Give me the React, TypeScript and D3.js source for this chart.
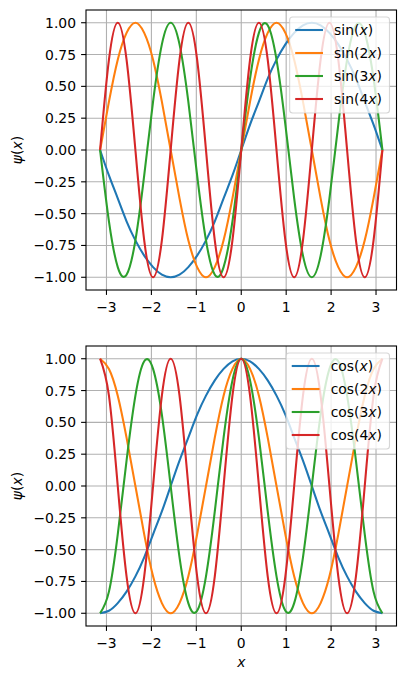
import { useEffect, useRef } from "react";
import * as d3 from "d3";

// sample positions, x = k·π/16 for k = -16..16
const xGrid = [
  -3.142, -2.945, -2.749, -2.553, -2.356, -2.16, -1.963, -1.767, -1.571, -1.374, -1.178,
  -0.982, -0.785, -0.589, -0.393, -0.196, 0, 0.196, 0.393, 0.589, 0.785, 0.982, 1.178,
  1.374, 1.571, 1.767, 1.963, 2.16, 2.356, 2.553, 2.749, 2.945, 3.142,
];

const sin1 = [
  0, -0.2, -0.38, -0.56, -0.71, -0.83, -0.92, -0.98, -1, -0.98, -0.92, -0.83, -0.71, -0.56, -0.38, -0.2,
  0, 0.2, 0.38, 0.56, 0.71, 0.83, 0.92, 0.98, 1, 0.98, 0.92, 0.83, 0.71, 0.56, 0.38, 0.2, 0,
];
const sin2 = [
  0, 0.38, 0.71, 0.92, 1, 0.92, 0.71, 0.38, 0, -0.38, -0.71, -0.92, -1, -0.92, -0.71, -0.38,
  0, 0.38, 0.71, 0.92, 1, 0.92, 0.71, 0.38, 0, -0.38, -0.71, -0.92, -1, -0.92, -0.71, -0.38, 0,
];
const sin3 = [
  0, -0.56, -0.92, -0.98, -0.71, -0.2, 0.38, 0.83, 1, 0.83, 0.38, -0.2, -0.71, -0.98, -0.92, -0.56,
  0, 0.56, 0.92, 0.98, 0.71, 0.2, -0.38, -0.83, -1, -0.83, -0.38, 0.2, 0.71, 0.98, 0.92, 0.56, 0,
];
const sin4 = [
  0, 0.71, 1, 0.71, 0, -0.71, -1, -0.71, 0, 0.71, 1, 0.71, 0, -0.71, -1, -0.71,
  0, 0.71, 1, 0.71, 0, -0.71, -1, -0.71, 0, 0.71, 1, 0.71, 0, -0.71, -1, -0.71, 0,
];

const cos1 = [
  -1, -0.98, -0.92, -0.83, -0.71, -0.56, -0.38, -0.2, 0, 0.2, 0.38, 0.56, 0.71, 0.83, 0.92, 0.98,
  1, 0.98, 0.92, 0.83, 0.71, 0.56, 0.38, 0.2, 0, -0.2, -0.38, -0.56, -0.71, -0.83, -0.92, -0.98, -1,
];
const cos2 = [
  1, 0.92, 0.71, 0.38, 0, -0.38, -0.71, -0.92, -1, -0.92, -0.71, -0.38, 0, 0.38, 0.71, 0.92,
  1, 0.92, 0.71, 0.38, 0, -0.38, -0.71, -0.92, -1, -0.92, -0.71, -0.38, 0, 0.38, 0.71, 0.92, 1,
];
const cos3 = [
  -1, -0.83, -0.38, 0.2, 0.71, 0.98, 0.92, 0.56, 0, -0.56, -0.92, -0.98, -0.71, -0.2, 0.38, 0.83,
  1, 0.83, 0.38, -0.2, -0.71, -0.98, -0.92, -0.56, 0, 0.56, 0.92, 0.98, 0.71, 0.2, -0.38, -0.83, -1,
];
const cos4 = [
  1, 0.71, 0, -0.71, -1, -0.71, 0, 0.71, 1, 0.71, 0, -0.71, -1, -0.71, 0, 0.71,
  1, 0.71, 0, -0.71, -1, -0.71, 0, 0.71, 1, 0.71, 0, -0.71, -1, -0.71, 0, 0.71, 1,
];

const multipliers = ["", "2", "3", "4"];
const xTicks = [-3, -2, -1, 0, 1, 2, 3];
const yTicks = [-1, -0.75, -0.5, -0.25, 0, 0.25, 0.5, 0.75, 1];
const colors = ["#1f77b4", "#ff7f0e", "#2ca02c", "#d62728"];

const panels = [
  { fn: "sin", series: [sin1, sin2, sin3, sin4] },
  { fn: "cos", series: [cos1, cos2, cos3, cos4] },
];

const W = 405;
const H = 679;
const FONT = "'DejaVu Sans', sans-serif";
const FS = 13.9;

export default function App() {
  const ref = useRef<SVGSVGElement>(null);

  useEffect(() => {
    const svg = d3.select(ref.current);
    svg.selectAll("*").remove();

    const left = 86;
    const right = 396.5;
    const axH = 280;
    const tops = [10, 346];

    const xr = Math.PI * 1.1;
    const x = d3.scaleLinear().domain([-xr, xr]).range([left, right]);

    panels.forEach((panel, pi) => {
      const top = tops[pi];
      const bottom = top + axH;
      const y = d3.scaleLinear().domain([-1.1, 1.1]).range([bottom, top]);
      const g = svg.append("g");

      // grid
      g.selectAll(".gx")
        .data(xTicks)
        .enter()
        .append("line")
        .attr("x1", (d) => x(d))
        .attr("x2", (d) => x(d))
        .attr("y1", top)
        .attr("y2", bottom)
        .attr("stroke", "#b0b0b0")
        .attr("stroke-width", 1.1);
      g.selectAll(".gy")
        .data(yTicks)
        .enter()
        .append("line")
        .attr("x1", left)
        .attr("x2", right)
        .attr("y1", (d) => y(d))
        .attr("y2", (d) => y(d))
        .attr("stroke", "#b0b0b0")
        .attr("stroke-width", 1.1);

      // curves
      const line = d3
        .line<number>()
        .x((_, i) => x(xGrid[i]))
        .y((d) => y(d))
        .curve(d3.curveNatural);
      panel.series.forEach((vals, si) => {
        g.append("path")
          .attr("d", line(vals))
          .attr("fill", "none")
          .attr("stroke", colors[si])
          .attr("stroke-width", 2.08);
      });

      // spines
      g.append("rect")
        .attr("x", left)
        .attr("y", top)
        .attr("width", right - left)
        .attr("height", axH)
        .attr("fill", "none")
        .attr("stroke", "black")
        .attr("stroke-width", 1.1);

      // x ticks
      const xt = g.selectAll(".xt").data(xTicks).enter().append("g");
      xt.append("line")
        .attr("x1", (d) => x(d))
        .attr("x2", (d) => x(d))
        .attr("y1", bottom)
        .attr("y2", bottom + 4.9)
        .attr("stroke", "black")
        .attr("stroke-width", 1.1);
      xt.append("text")
        .attr("x", (d) => x(d))
        .attr("y", bottom + 22)
        .attr("text-anchor", "middle")
        .attr("font-family", FONT)
        .attr("font-size", FS)
        .text((d) => (d < 0 ? "\u2212" + Math.abs(d) : String(d)));

      // y ticks
      const yt = g.selectAll(".yt").data(yTicks).enter().append("g");
      yt.append("line")
        .attr("x1", left - 4.9)
        .attr("x2", left)
        .attr("y1", (d) => y(d))
        .attr("y2", (d) => y(d))
        .attr("stroke", "black")
        .attr("stroke-width", 1.1);
      yt.append("text")
        .attr("x", left - 10)
        .attr("y", (d) => y(d))
        .attr("dy", "0.36em")
        .attr("text-anchor", "end")
        .attr("font-family", FONT)
        .attr("font-size", FS)
        .text((d) => (d < 0 ? "\u2212" + Math.abs(d).toFixed(2) : d.toFixed(2)));

      // y label
      const yl = g
        .append("text")
        .attr("transform", `translate(22,${(top + bottom) / 2}) rotate(-90)`)
        .attr("text-anchor", "middle")
        .attr("font-family", FONT)
        .attr("font-size", FS);
      yl.append("tspan").attr("font-style", "italic").text("ψ");
      yl.append("tspan").text("(");
      yl.append("tspan").attr("font-style", "italic").text("x");
      yl.append("tspan").text(")");

      // legend
      const lg = g.append("g");
      const frame = lg.append("rect");
      const rowTop = top + 20;
      const rowGap = 23;
      const handleLen = 27.8;
      const pad = 5.56;
      const labels = multipliers.map((m, i) => {
        const rowY = rowTop + i * rowGap;
        const t = lg
          .append("text")
          .attr("y", rowY)
          .attr("dy", "0.36em")
          .attr("font-family", FONT)
          .attr("font-size", FS);
        t.append("tspan").text(panel.fn + "(" + m);
        t.append("tspan").attr("font-style", "italic").text("x");
        t.append("tspan").text(")");
        return t;
      });
      const textW = d3.max(labels, (t) => (t.node() as SVGTextElement).getComputedTextLength()) || 0;
      const frameRight = right - 7;
      const frameW = pad + handleLen + 11.1 + textW + pad + 2;
      const frameLeft = frameRight - frameW;
      frame
        .attr("x", frameLeft)
        .attr("y", top + 7)
        .attr("width", frameW)
        .attr("height", 96)
        .attr("rx", 3)
        .attr("fill", "white")
        .attr("fill-opacity", 0.8)
        .attr("stroke", "#cccccc")
        .attr("stroke-opacity", 0.8)
        .attr("stroke-width", 1.1);
      labels.forEach((t, i) => {
        const rowY = rowTop + i * rowGap;
        t.attr("x", frameLeft + pad + handleLen + 11.1);
        lg.append("line")
          .attr("x1", frameLeft + pad)
          .attr("x2", frameLeft + pad + handleLen)
          .attr("y1", rowY)
          .attr("y2", rowY)
          .attr("stroke", colors[i])
          .attr("stroke-width", 2.08);
      });

      if (pi === 1) {
        svg
          .append("text")
          .attr("x", x(0))
          .attr("y", bottom + 41)
          .attr("text-anchor", "middle")
          .attr("font-family", FONT)
          .attr("font-size", FS)
          .attr("font-style", "italic")
          .text("x");
      }
    });
  }, []);

  return (
    <svg
      ref={ref}
      width={W}
      height={H}
      style={{ position: "absolute", left: 0, top: 0, background: "white" }}
    />
  );
}
